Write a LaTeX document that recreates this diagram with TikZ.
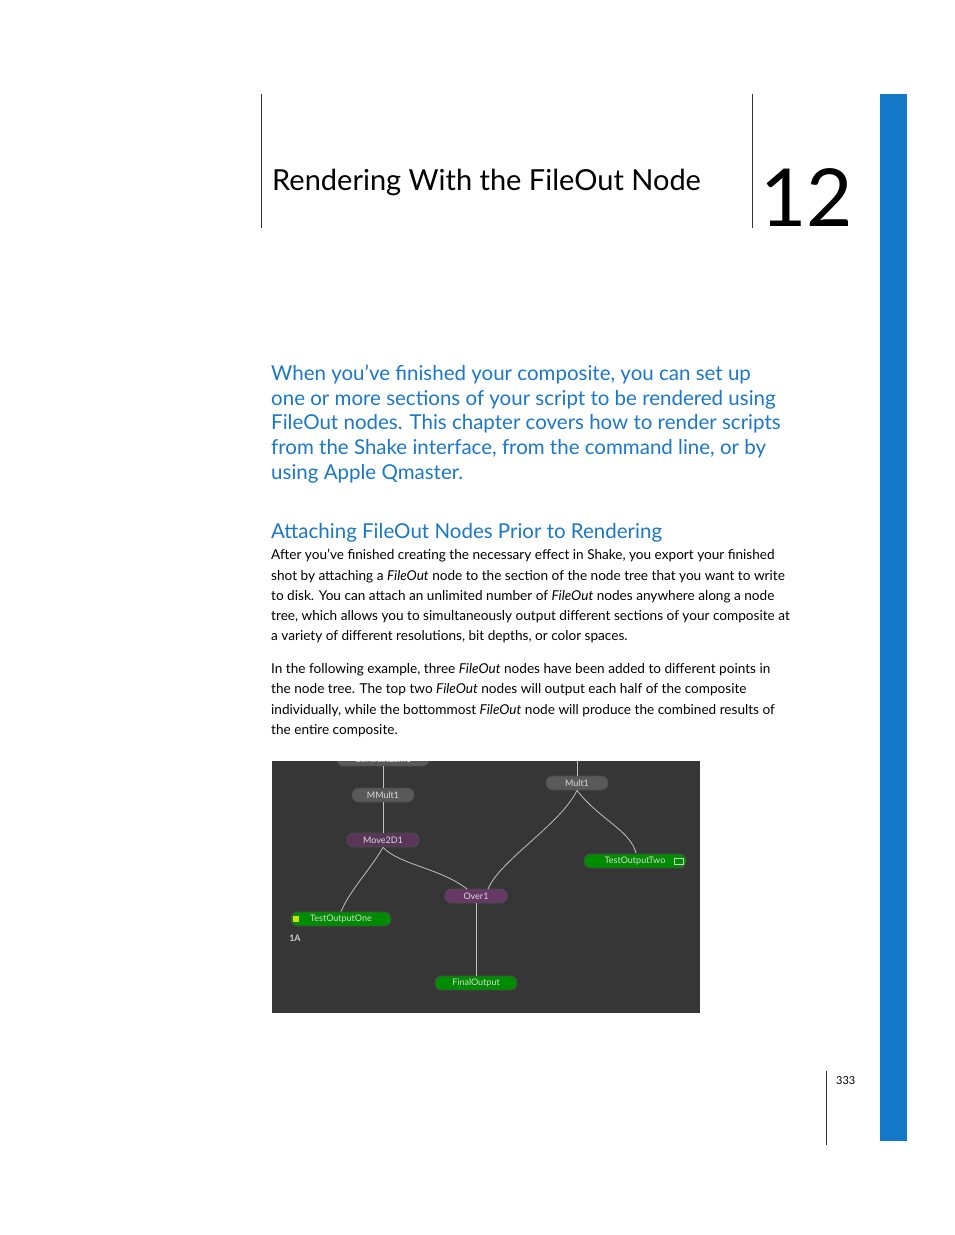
\documentclass[tikz,border=0pt]{standalone}
\usepackage{fontspec}
\setmainfont{Lato}
\definecolor{ablue}{HTML}{1B78C8}
\definecolor{bar}{HTML}{1478C8}
\definecolor{scr}{HTML}{363636}
\begin{document}
\begin{tikzpicture}[x=1pt,y=-1pt,
  bl/.style={anchor=base west,inner sep=0pt,text=ablue,font=\fontsize{20.5}{24}\selectfont},
  bd/.style={anchor=base west,inner sep=0pt,font=\fontsize{13.6}{16}\selectfont},
  sn/.style={draw=black!70,line width=0.8pt,rounded corners=6.5pt,minimum height=14pt,inner sep=1pt,font=\fontsize{9}{10}\selectfont,text=white!85!black},
  gray/.style={sn,fill=gray!70!black},
  purp/.style={sn,fill=violet!40!gray!70!black},
  lpur/.style={sn,fill=gray!55!violet!80!black},
  grn/.style={sn,fill=green!55!black},
  wire/.style={white!75!black,line width=0.8pt}]
\useasboundingbox (0,0) rectangle (954,1235);
\fill[bar] (880,94) rectangle (907,1141);
\draw[black!80,line width=0.6pt] (261,94) -- (261,228) (752,94) -- (752,228) (826,1071) -- (826,1145);
\node[anchor=base west,inner sep=0pt,font=\fontsize{29}{32}\selectfont] (title) at (272,190) {Rendering With the FileOut Node};
\node[anchor=base west,inner sep=0pt,font=\fontsize{80}{80}\selectfont] (num) at (760,226) {12};
\node[bl] (i1) at (271,380) {When you’ve finished your composite, you can set up};
\node[bl] (i2) at (271,405) {one or more sections of your script to be rendered using};
\node[bl] (i3) at (271,429) {FileOut nodes. This chapter covers how to render scripts};
\node[bl] (i4) at (271,454) {from the Shake interface, from the command line, or by};
\node[bl] (i5) at (271,479) {using Apple Qmaster.};
\node[bl] (h1) at (271,538) {Attaching FileOut Nodes Prior to Rendering};
\node[bd] (b1) at (271,559) {After you’ve finished creating the necessary effect in Shake, you export your finished};
\node[bd] (b2) at (271,580) {shot by attaching a \textit{FileOut} node to the section of the node tree that you want to write};
\node[bd] (b3) at (271,600) {to disk. You can attach an unlimited number of \textit{FileOut} nodes anywhere along a node};
\node[bd] (b4) at (271,620) {tree, which allows you to simultaneously output different sections of your composite at};
\node[bd] (b5) at (271,640) {a variety of different resolutions, bit depths, or color spaces.};
\node[bd] (c1) at (271,673) {In the following example, three \textit{FileOut} nodes have been added to different points in};
\node[bd] (c2) at (271,693) {the node tree. The top two \textit{FileOut} nodes will output each half of the composite};
\node[bd] (c3) at (271,714) {individually, while the bottommost \textit{FileOut} node will produce the combined results of};
\node[bd] (c4) at (271,734) {the entire composite.};
\node[anchor=base west,inner sep=0pt,font=\fontsize{11}{12}\selectfont] (pg) at (836,1084) {333};
% screenshot
\fill[scr] (272,761) rectangle (700,1013);
\begin{scope}
\clip (272,761) rectangle (700,1013);
\node[gray,minimum width=92pt] (cl) at (383,759) {ContrastLum1};
\node[gray,minimum width=62pt] (mm) at (383,795) {MMult1};
\node[purp,minimum width=72pt] (mv) at (383,840) {Move2D1};
\node[lpur,minimum width=62pt] (ov) at (476,896) {Over1};
\node[grn,minimum width=100pt] (t1) at (341,919) {TestOutputOne};
\node[grn,minimum width=82pt] (fo) at (476,983) {FinalOutput};
\node[gray,minimum width=62pt] (m1) at (577,783) {Mult1};
\node[grn,minimum width=102pt] (t2) at (635,861) {TestOutputTwo};
\coordinate (top) at (577,758);
\node[inner sep=0pt,font=\fontsize{9}{10}\selectfont\bfseries,text=white!80!black] (la) at (295,938) {1A};
\fill[yellow!80!green] (293,916) rectangle (299,922);
\draw[white!80!black,line width=0.6pt] (674,858) rectangle (683,864);
\draw[wire] (top) -- (m1.north) (cl.south) -- (mm.north) (mm.south) -- (mv.north) (ov.south) -- (fo.north);
\draw[wire] (mv.south) .. controls (400,865) and (440,868) .. (467,889);
\draw[wire] (mv.south) .. controls (370,870) and (350,890) .. (t1.north);
\draw[wire] (m1.south) .. controls (560,825) and (500,860) .. (488,889);
\draw[wire] (m1.south) .. controls (600,820) and (630,830) .. (636,853);
\end{scope}
\end{tikzpicture}
\end{document}
